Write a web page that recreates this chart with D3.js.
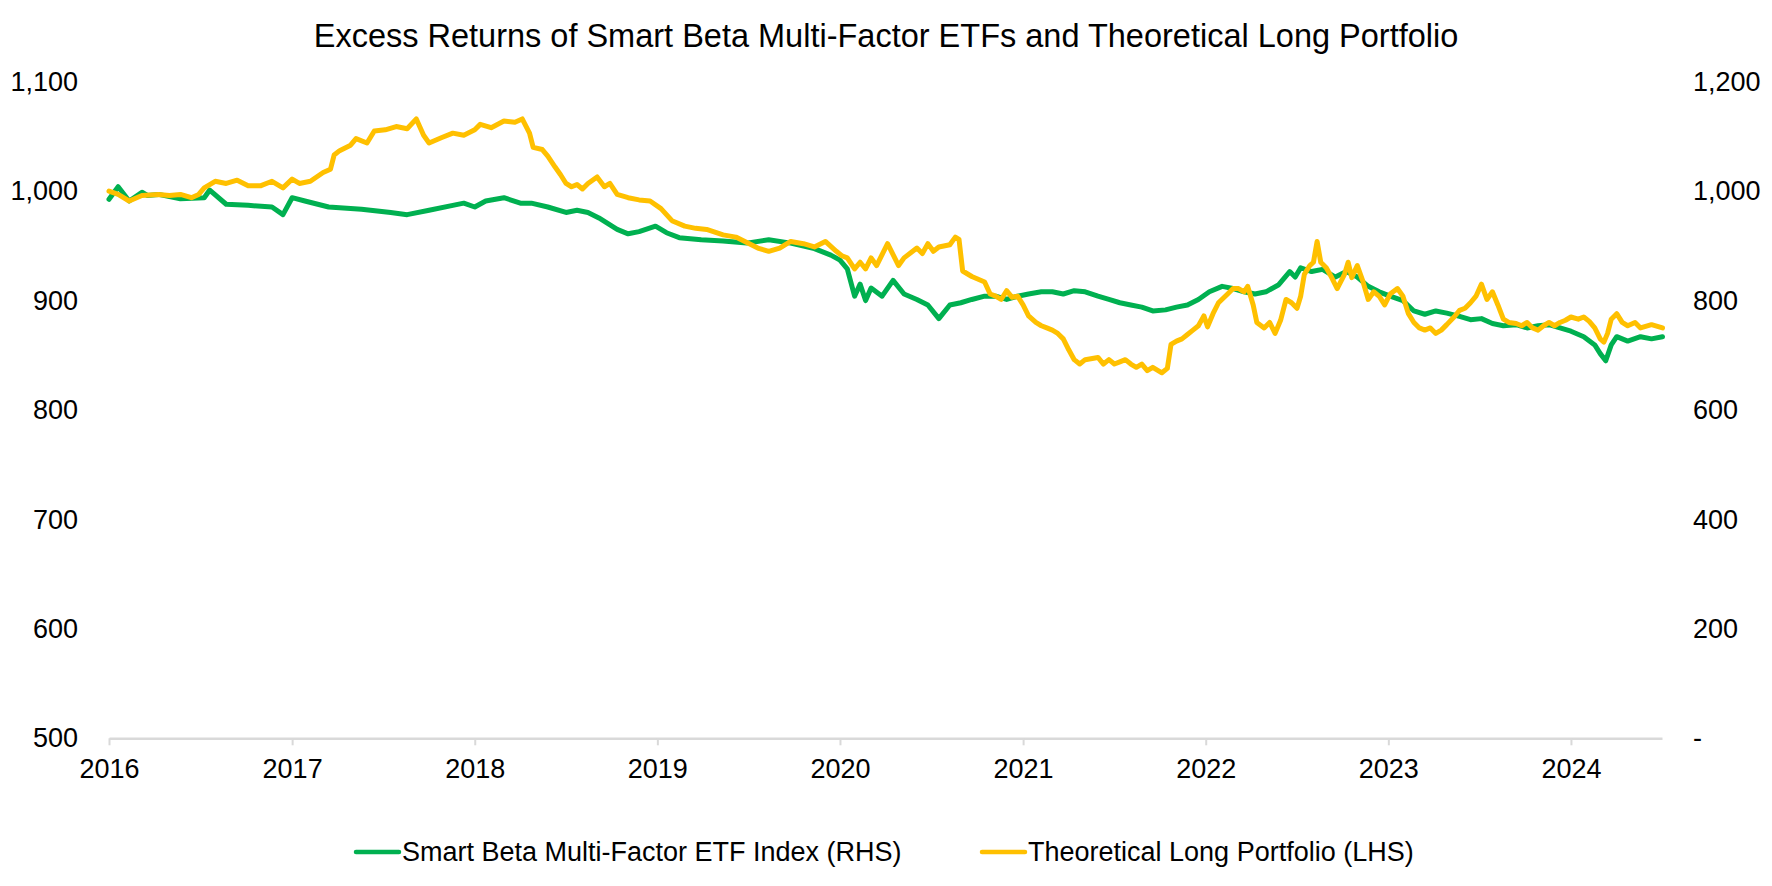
<!DOCTYPE html>
<html>
<head>
<meta charset="utf-8">
<script src="https://cdn.jsdelivr.net/npm/d3@7"></script>
<style>
  html, body { margin: 0; padding: 0; background: #fff; }
  svg { display: block; font-family: "Liberation Sans", Arial, Helvetica, sans-serif; }
</style>
</head>
<body>
<svg id="chart" width="1772" height="886"></svg>
<script>
// ---------------- DATA ----------------
const titleText = "Excess Returns of Smart Beta Multi-Factor ETFs and Theoretical Long Portfolio";
const seriesNames = ["Smart Beta Multi-Factor ETF Index (RHS)", "Theoretical Long Portfolio (LHS)"];
const seriesColors = ["#00B050", "#FFC000"];

const leftTicks = [500, 600, 700, 800, 900, 1000, 1100];
const rightTicks = [0, 200, 400, 600, 800, 1000, 1200];
const yearTicks = [2016, 2017, 2018, 2019, 2020, 2021, 2022, 2023, 2024];
const xStart = "2016-01-01";
const xEnd = "2024-07-01";

// Smart Beta Multi-Factor ETF Index (RHS) : time as decimal year
const etfT = [2016.00,2016.05,2016.11,2016.18,2016.21,2016.27,2016.39,2016.52,2016.55,2016.64,2016.76,2016.89,2016.95,2017.00,
  2017.07,2017.20,2017.38,2017.54,2017.63,2017.75,2017.88,2017.94,2018.00,2018.06,2018.16,2018.25,2018.31,2018.40,2018.50,
  2018.56,2018.62,2018.68,2018.78,2018.84,2018.90,2018.99,2019.05,2019.12,2019.24,2019.36,2019.49,2019.61,2019.73,2019.86,
  2019.95,2020.00,2020.04,2020.08,2020.11,2020.14,2020.17,2020.23,2020.29,2020.35,2020.42,2020.48,2020.54,2020.60,2020.66,
  2020.72,2020.79,2020.85,2020.91,2020.97,2021.03,2021.10,2021.16,2021.22,2021.28,2021.34,2021.41,2021.47,2021.53,2021.59,
  2021.65,2021.71,2021.78,2021.84,2021.90,2021.96,2022.02,2022.09,2022.15,2022.21,2022.27,2022.33,2022.40,2022.46,2022.49,
  2022.52,2022.58,2022.64,2022.71,2022.77,2022.83,2022.89,2022.95,2023.01,2023.08,2023.14,2023.20,2023.26,2023.32,2023.39,
  2023.45,2023.51,2023.57,2023.63,2023.70,2023.76,2023.82,2023.88,2023.94,2024.00,2024.07,2024.13,2024.16,2024.19,2024.22,
  2024.25,2024.31,2024.38,2024.44,2024.50];
const etfV = [985,1008,982,998,992,994,986,988,1002,976,974,971,957,988,
  982,971,967,961,957,965,974,978,971,982,988,978,978,971,961,
  965,961,951,930,922,926,936,924,915,911,909,905,911,905,895,
  883,874,858,808,830,800,823,808,837,812,802,792,767,792,796,
  802,808,808,802,808,812,816,816,812,818,816,808,802,796,792,
  788,781,783,788,792,802,816,826,822,816,812,816,829,853,843,
  860,853,857,843,853,843,826,816,808,800,781,775,781,777,771,
  765,767,758,754,756,750,754,756,750,744,734,719,703,690,719,
  734,726,734,730,734];

// Theoretical Long Portfolio (LHS)
const longT = [2016.00,2016.05,2016.11,2016.18,2016.27,2016.33,2016.39,2016.45,2016.49,2016.52,2016.58,2016.64,2016.70,2016.76,
  2016.83,2016.89,2016.95,2017.00,2017.04,2017.10,2017.17,2017.21,2017.23,2017.26,2017.32,2017.35,2017.41,2017.45,2017.51,
  2017.57,2017.63,2017.68,2017.72,2017.75,2017.82,2017.88,2017.94,2018.00,2018.03,2018.09,2018.16,2018.22,2018.26,2018.30,
  2018.32,2018.37,2018.40,2018.44,2018.47,2018.50,2018.53,2018.56,2018.59,2018.62,2018.67,2018.71,2018.74,2018.78,2018.84,
  2018.90,2018.96,2019.02,2019.08,2019.15,2019.21,2019.27,2019.36,2019.43,2019.49,2019.55,2019.61,2019.67,2019.73,2019.80,
  2019.86,2019.92,2019.98,2020.01,2020.04,2020.08,2020.11,2020.14,2020.17,2020.20,2020.26,2020.29,2020.32,2020.35,2020.42,
  2020.45,2020.48,2020.51,2020.54,2020.60,2020.63,2020.65,2020.67,2020.72,2020.79,2020.82,2020.85,2020.88,2020.91,2020.94,
  2020.97,2021.00,2021.03,2021.07,2021.10,2021.13,2021.16,2021.19,2021.22,2021.25,2021.28,2021.31,2021.34,2021.41,2021.44,
  2021.47,2021.50,2021.53,2021.56,2021.59,2021.62,2021.65,2021.68,2021.71,2021.76,2021.79,2021.81,2021.84,2021.87,2021.90,
  2021.93,2021.96,2021.99,2022.01,2022.04,2022.07,2022.12,2022.15,2022.18,2022.21,2022.23,2022.26,2022.28,2022.32,2022.35,
  2022.38,2022.41,2022.44,2022.47,2022.50,2022.52,2022.54,2022.57,2022.59,2022.61,2022.63,2022.66,2022.69,2022.72,2022.76,
  2022.78,2022.80,2022.83,2022.86,2022.89,2022.92,2022.95,2022.98,2023.01,2023.05,2023.08,2023.11,2023.14,2023.17,2023.20,
  2023.23,2023.26,2023.29,2023.32,2023.36,2023.39,2023.42,2023.45,2023.48,2023.51,2023.54,2023.57,2023.60,2023.63,2023.66,
  2023.70,2023.73,2023.76,2023.79,2023.82,2023.85,2023.88,2023.91,2023.94,2023.97,2024.00,2024.04,2024.07,2024.10,2024.13,
  2024.16,2024.18,2024.20,2024.22,2024.25,2024.28,2024.31,2024.35,2024.38,2024.44,2024.50];
const longV = [1000,997,991,996,997,996,997,994,997,1003,1009,1007,1010,1005,
  1005,1009,1003,1011,1007,1009,1017,1020,1033,1037,1042,1048,1044,1055,1056,
  1059,1057,1066,1051,1044,1049,1053,1051,1056,1061,1058,1064,1063,1066,1053,
  1040,1038,1032,1022,1015,1007,1004,1006,1002,1007,1013,1004,1007,997,994,
  992,991,984,973,968,966,965,960,958,953,948,945,948,954,952,
  949,954,945,941,939,929,935,929,939,932,952,942,932,939,948,
  943,952,945,949,951,958,956,927,922,917,906,904,901,909,903,
  904,896,886,880,877,875,873,870,865,855,846,842,846,848,842,
  846,842,844,846,842,839,842,836,839,834,838,860,863,865,869,
  873,877,886,876,888,898,906,911,911,908,913,896,880,875,880,
  870,882,901,898,893,904,924,932,935,954,935,930,921,911,924,
  935,921,932,918,901,908,904,896,906,911,904,888,880,875,873,
  875,870,873,878,885,891,893,898,904,915,901,908,896,883,880,
  879,877,880,875,873,877,880,877,880,882,885,883,885,881,875,
  865,862,870,883,888,880,877,880,875,878,875];

// ---------------- CHART ----------------
const svg = d3.select("#chart");
const W = 1772, H = 886;
const plot = { left: 109, right: 1662, top: 81.7, bottom: 738.3 };
const font = '"Liberation Sans", Arial, Helvetica, sans-serif';

function decYear(t) {
  const y = Math.floor(t);
  const a = Date.UTC(y, 0, 1), b = Date.UTC(y + 1, 0, 1);
  return new Date(a + (t - y) * (b - a));
}

const x = d3.scaleUtc()
  .domain([new Date(xStart + "T00:00:00Z"), new Date(xEnd + "T00:00:00Z")])
  .range([plot.left, plot.right]);
const yL = d3.scaleLinear().domain([leftTicks[0], leftTicks[leftTicks.length - 1]]).range([plot.bottom, plot.top]);
const yR = d3.scaleLinear().domain([rightTicks[0], rightTicks[rightTicks.length - 1]]).range([plot.bottom, plot.top]);

// Title
svg.append("text")
  .attr("x", W / 2).attr("y", 47)
  .attr("text-anchor", "middle")
  .style("font-size", "32.5px").style("fill", "#000")
  .text(titleText);

// Left axis
const gL = svg.append("g").attr("transform", `translate(${plot.left},0)`)
  .call(d3.axisLeft(yL).tickValues(leftTicks).tickFormat(d3.format(",")).tickSize(0).tickPadding(31));
gL.select(".domain").remove();
gL.selectAll("text").style("font-size", "27px").style("font-family", font).style("fill", "#000");

// Right axis
const gR = svg.append("g").attr("transform", `translate(${plot.right},0)`)
  .call(d3.axisRight(yR).tickValues(rightTicks)
    .tickFormat(d => d === 0 ? "-" : d3.format(",")(d)).tickSize(0).tickPadding(31));
gR.select(".domain").remove();
gR.selectAll("text").style("font-size", "27px").style("font-family", font).style("fill", "#000");

// Bottom axis
const gB = svg.append("g").attr("transform", `translate(0,${plot.bottom})`)
  .call(d3.axisBottom(x)
    .tickValues(yearTicks.map(yv => new Date(Date.UTC(yv, 0, 1))))
    .tickFormat(d3.utcFormat("%Y")).tickSizeInner(7).tickSizeOuter(0));
gB.select(".domain").attr("stroke", "#d9d9d9").attr("stroke-width", 2.5);
gB.selectAll(".tick line").attr("stroke", "#d9d9d9").attr("stroke-width", 2);
gB.selectAll("text").attr("y", 40).attr("dy", 0)
  .style("font-size", "27px").style("font-family", font).style("fill", "#000");

// Lines
const etfData = etfT.map((t, i) => ({ d: decYear(t), v: etfV[i] }));
const longData = longT.map((t, i) => ({ d: decYear(t), v: longV[i] }));

const lineR = d3.line().x(p => x(p.d)).y(p => yR(p.v));
const lineL = d3.line().x(p => x(p.d)).y(p => yL(p.v));

svg.append("path").datum(etfData)
  .attr("d", lineR).attr("fill", "none")
  .attr("stroke", seriesColors[0]).attr("stroke-width", 5)
  .attr("stroke-linejoin", "round").attr("stroke-linecap", "round");

svg.append("path").datum(longData)
  .attr("d", lineL).attr("fill", "none")
  .attr("stroke", seriesColors[1]).attr("stroke-width", 5)
  .attr("stroke-linejoin", "round").attr("stroke-linecap", "round");

// Legend
const legendX = [356, 982];
const legendY = 852;
seriesNames.forEach((name, i) => {
  const g = svg.append("g").attr("transform", `translate(${legendX[i]},${legendY})`);
  g.append("line").attr("x1", 0).attr("x2", 43).attr("y1", 0).attr("y2", 0)
    .attr("stroke", seriesColors[i]).attr("stroke-width", 4.5).attr("stroke-linecap", "round");
  g.append("text").attr("x", 46).attr("y", 9)
    .style("font-size", "27px").style("fill", "#000").text(name);
});
</script>
</body>
</html>
